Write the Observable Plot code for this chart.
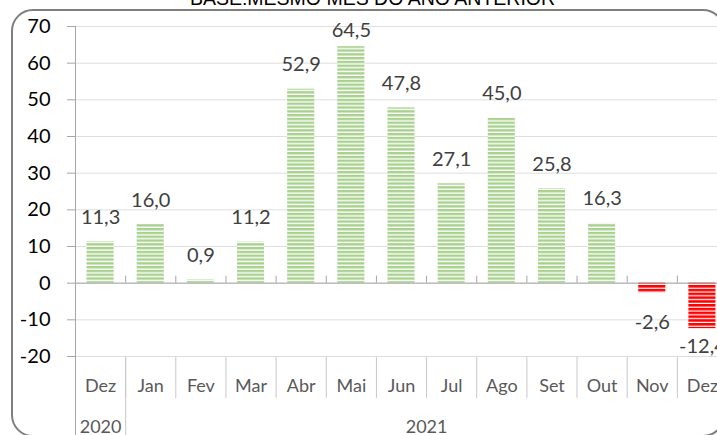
<!DOCTYPE html>
<html><head><meta charset="utf-8">
<script src="https://cdn.jsdelivr.net/npm/d3@7"></script>
<script src="https://cdn.jsdelivr.net/npm/@observablehq/plot@0.6"></script>
<style>
html,body{margin:0;padding:0;background:#fff;overflow:hidden;}
#wrap{position:relative;width:717px;height:435px;overflow:hidden;background:#fff;}
#title{position:absolute;left:0;top:-11px;width:745px;text-align:center;font:19.5px/19.5px "Liberation Sans",Arial,sans-serif;color:#000;white-space:nowrap;}
#chart{position:absolute;left:0;top:0;}
#border{position:absolute;left:11px;top:9px;width:714px;height:428px;box-sizing:border-box;border:2px solid #7f7f7f;border-radius:22px;pointer-events:none;}
</style></head>
<body>
<div id="wrap">
  <div id="title">BASE:MESMO MÊS DO ANO ANTERIOR</div>
  <div id="chart"></div>
  <div id="border"></div>
</div>
<script>
const months = ["Dez","Jan","Fev","Mar","Abr","Mai","Jun","Jul","Ago","Set","Out","Nov","Dez"];
const monthYears = ["2020","2021","2021","2021","2021","2021","2021","2021","2021","2021","2021","2021","2021"];
const values = [11.3,16.0,0.9,11.2,52.9,64.5,47.8,27.1,45.0,25.8,16.3,-2.6,-12.4];
const yTicks = [-20,-10,0,10,20,30,40,50,60,70];
const yearLabels = ["2020","2021"];

const keys = months.map((m,i) => monthYears[i] + " " + m);
const data = values.map((v,i) => ({key: keys[i], v, label: v.toFixed(1).replace(".", ",")}));
const pos = data.filter(d => d.v >= 0);
const neg = data.filter(d => d.v < 0);

const W = 740, H = 435, ML = 75, MR = 13, MT = 26, MB = 79;
const step = (W - ML - MR) / keys.length;
const axisGray = "#a6a6a6";
const divGray = "#c8c8c8";
const txtGray = "#595959";

const y2021Keys = keys.filter((k,i) => monthYears[i] === "2021");

const svg = Plot.plot({
  width: W, height: H,
  marginLeft: ML, marginRight: MR, marginTop: MT, marginBottom: MB,
  style: {fontFamily: "Lato, 'Open Sans', sans-serif", background: "transparent", maxWidth: "none", overflow: "visible"},
  x: {type: "band", domain: keys, paddingInner: 0.46, paddingOuter: 0.23, round: false, axis: null},
  y: {domain: [-20, 70], axis: null},
  marks: [
    Plot.gridY(yTicks, {stroke: "#dedede", strokeOpacity: 1}),
    Plot.barY(pos, {x: "key", y: "v", fill: "url(#stripeG)"}),
    Plot.barY(neg, {x: "key", y: "v", fill: "url(#stripeR)"}),
    Plot.ruleY([0], {stroke: axisGray}),
    Plot.ruleX(keys.slice(1), {x: d => d, y1: () => 0, y2: () => 0, insetTop: -7, dx: -step/2, stroke: axisGray}),
    Plot.ruleX(keys.slice(1), {x: d => d, insetTop: (H - MB - MT) + 1, insetBottom: -42, dx: -step/2, stroke: divGray}),
    Plot.ruleX([y2021Keys[0]], {x: d => d, insetTop: (H - MB - MT) + 1, insetBottom: -MB, dx: -step/2, stroke: divGray}),
    Plot.ruleX([keys[0]], {x: d => d, insetBottom: -MB, dx: -step/2, stroke: axisGray}),
    Plot.axisY(yTicks, {label: null, tickSize: 8, tickPadding: 17, fontSize: 20, stroke: axisGray, color: "#000", fill: "#000", tickFormat: d => String(d)}),
    Plot.axisX({label: null, tickSize: 0, tickPadding: 23, fontSize: 18, color: txtGray, fill: txtGray, tickFormat: k => k.split(" ")[1]}),
    Plot.text([keys[0]], {x: d => d, text: [yearLabels[0]], frameAnchor: "bottom", dy: 76, lineAnchor: "bottom", fontSize: 18, fill: txtGray}),
    Plot.text([y2021Keys[Math.floor(y2021Keys.length/2) - 1]], {x: d => d, text: [yearLabels[1]], frameAnchor: "bottom", dy: 76, dx: step/2, lineAnchor: "bottom", fontSize: 18, fill: txtGray}),
    Plot.text(pos, {x: "key", y: d => Math.min(d.v, 62.2), dy: -18, lineAnchor: "bottom", text: "label", fontSize: 20, fill: "#404040"}),
    Plot.text(neg, {x: "key", y: d => Math.max(d.v, -9.3), dy: 36, lineAnchor: "bottom", text: "label", fontSize: 20, fill: "#404040"})
  ]
});

const ns = "http://www.w3.org/2000/svg";
const defs = document.createElementNS(ns, "defs");
defs.innerHTML =
  '<pattern id="stripeG" patternUnits="userSpaceOnUse" width="8" height="3.8"><rect width="8" height="3.8" fill="#ffffff"/><rect width="8" height="2.4" fill="#a9d18e"/></pattern>' +
  '<pattern id="stripeR" patternUnits="userSpaceOnUse" width="8" height="3.8"><rect width="8" height="3.8" fill="#ffffff"/><rect width="8" height="2.6" fill="#ff0000"/></pattern>';
svg.insertBefore(defs, svg.firstChild);
document.getElementById("chart").appendChild(svg);
</script>
</body></html>
